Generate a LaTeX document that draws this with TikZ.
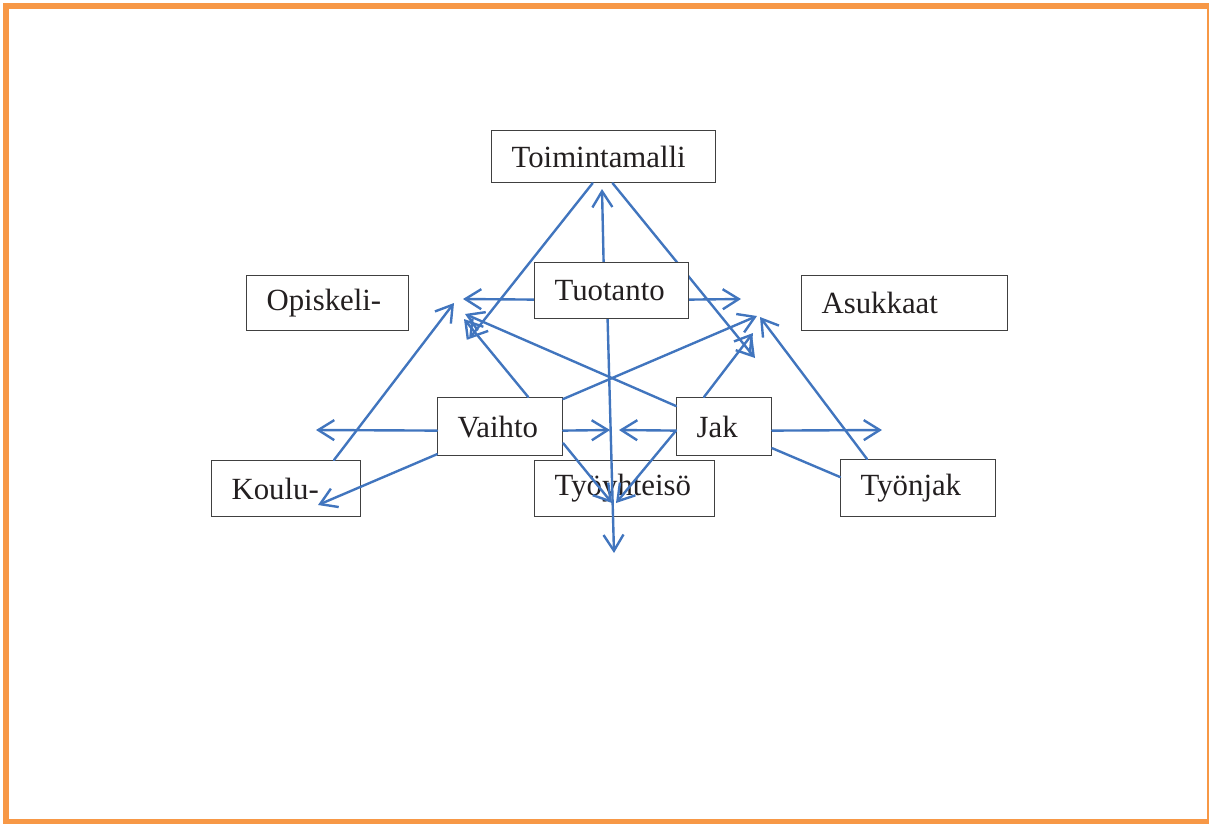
\documentclass[tikz,border=0pt]{standalone}
\usepackage{fontspec}
\setmainfont{Liberation Serif}
\usetikzlibrary{arrows.meta}
\definecolor{framecol}{RGB}{247,152,70}
\definecolor{linkcol}{RGB}{65,117,190}
\definecolor{inkcol}{RGB}{35,31,32}
\definecolor{edgecol}{RGB}{64,64,64}
\pgfdeclarelayer{front}
\pgfsetlayers{main,front}
\tikzset{
  box/.style={draw=edgecol, line width=1.2pt, fill=white, text=inkcol,
    anchor=north west, inner xsep=20pt, inner ysep=0pt, align=left,
    font=\fontsize{30.8}{36}\selectfont},
  link/.style={draw=linkcol, line width=2.4pt, line cap=round, line join=round},
  arr/.style={link, -{Straight Barb[length=16pt,width=20pt]}}
}
\begin{document}
\begin{tikzpicture}[x=1pt,y=-1pt]
\useasboundingbox (0,0) rectangle (1209,823);
\draw[framecol, line width=6pt] (6.3,6.3) rectangle (1209.7,822);

% boxes
\begin{pgfonlayer}{front}
\node[box, text width=114pt, minimum height=56pt] (tuo) at (534,262) {Tuotanto};
\end{pgfonlayer}
\node[box, text width=184pt, minimum height=52pt] (toi) at (491,130) {Toimintamalli};
\node[box, text width=122pt, minimum height=55pt] (opi) at (246,275) {Opiskeli-};
\node[box, text width=166pt, minimum height=55pt] (asu) at (801,275) {Asukkaat};
\node[box, text width=85pt, minimum height=58pt] (vai) at (437,397) {Vaihto};
\node[box, text width=55pt, minimum height=58pt] (jak) at (676,397) {Jak};
\node[box, text width=109pt, minimum height=56pt] (kou) at (211,460) {Koulu-};
\node[box, text width=140pt, minimum height=56pt] (tyy) at (534,460) {Työyhteisö};
\node[box, text width=115pt, minimum height=57pt] (tyn) at (840,459) {Työnjak};

% free ends of the connectors
\coordinate (e1) at (463,299);
\coordinate (e2) at (741,299);
\coordinate (e3) at (602,189);
\coordinate (e4) at (469,339);
\coordinate (e5) at (755,358);
\coordinate (e6) at (614,553);
\coordinate (e7) at (316,430);
\coordinate (e8) at (610,430);
\coordinate (e9) at (619,430);
\coordinate (e10) at (882,430);
\coordinate (e11) at (318,505);
\coordinate (e12) at (454,303);
\coordinate (e13) at (464,319);
\coordinate (e14) at (757,316);
\coordinate (e15) at (753,333);
\coordinate (e16) at (760,317);
\coordinate (e18) at (616,503);
\coordinate (e19) at (612,503);
\coordinate (e20) at (465,314);

% connectors
\draw[arr] ([yshift=-9pt]tuo.west) -- (e1);
\draw[arr] ([yshift=-9pt]tuo.east) -- (e2);
\draw[arr] ([xshift=-8pt]tuo.north) -- (e3);
\draw[arr] ([xshift=-11pt]toi.south) -- (e4);
\draw[arr] ([xshift=9pt]toi.south) -- (e5);
\draw[arr] ([xshift=-4pt]tuo.south) -- (e6);
\draw[arr] ([yshift=-4pt]vai.west) -- (e7);
\draw[arr] ([yshift=-4pt]vai.east) -- (e8);
\draw[arr] ([yshift=-4pt]jak.west) -- (e9);
\draw[arr] ([yshift=-4pt]jak.east) -- (e10);
\draw[arr] ([yshift=2pt]vai.south west) -- (e11);
\draw[arr] ([xshift=123pt]kou.north west) -- (e12);
\draw[arr] ([xshift=-35pt]vai.north east) -- (e13);
\draw[arr] ([yshift=-2pt]vai.north east) -- (e14);
\draw[arr] ([xshift=28pt]jak.north west) -- (e15);
\draw[arr] ([xshift=27pt]tyn.north west) -- (e16);
\draw[link] ([yshift=8pt]jak.south east) -- ([yshift=-18pt]tyn.north west);
\draw[arr] ([yshift=-4pt]jak.west) -- (e18);
\draw[arr] ([yshift=13pt]vai.south east) -- (e19);
\draw[arr] ([yshift=-9pt]jak.north west) -- (e20);
\end{tikzpicture}
\end{document}
